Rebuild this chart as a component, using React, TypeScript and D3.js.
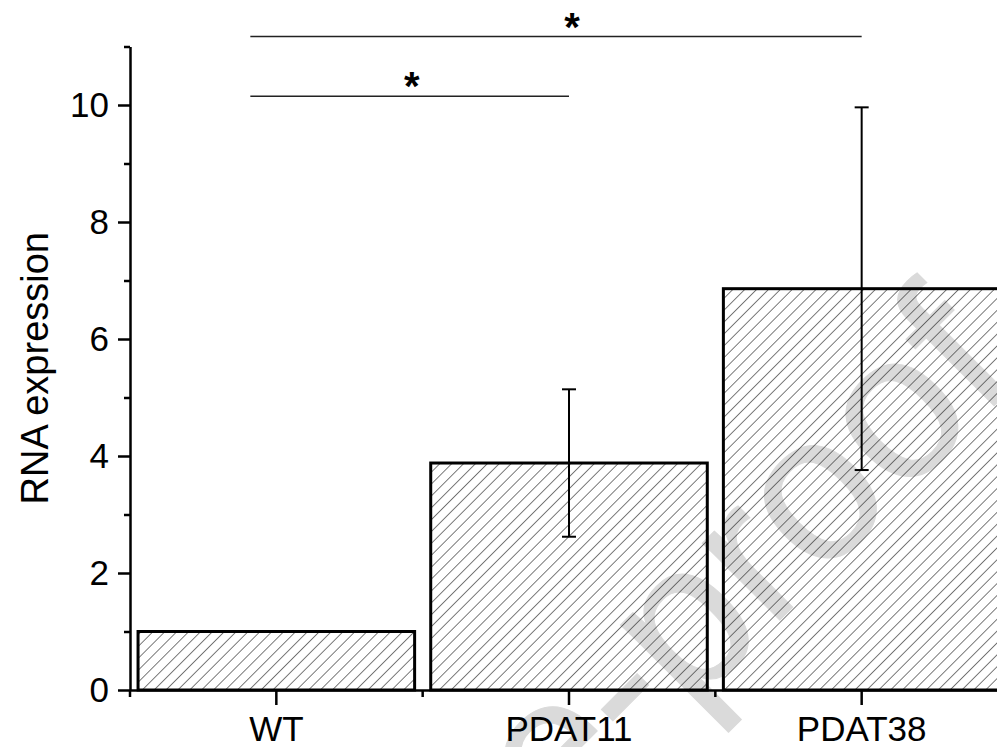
import * as d3 from "d3";
import { useEffect, useRef } from "react";

const categories = ["WT", "PDAT11", "PDAT38"];
const means = [1.0, 3.88, 6.86];
const errors = [0, 1.26, 3.1];
const majorTicks = [0, 2, 4, 6, 8, 10];
const minorTicks = [1, 3, 5, 7, 9, 11];
// significance brackets: [from, to, level]
const sigFrom = ["WT", "WT"];
const sigTo = ["PDAT11", "PDAT38"];
const sigLevel = [10.15, 11.17];
const sigLabel = ["*", "*"];

const W = 997;
const H = 747;
const FONT = "'Liberation Sans', Arial, Helvetica, sans-serif";

export default function App() {
  const svgRef = useRef<SVGSVGElement | null>(null);

  useEffect(() => {
    if (!svgRef.current) return;
    const svg = d3.select(svgRef.current);
    svg.selectAll("*").remove();

    const x = d3.scaleBand<string>().domain(categories).range([130, 1008]).paddingInner(0).paddingOuter(0);
    const y = d3.scaleLinear().domain([0, 11]).range([690, 46.5]);
    const step = x.step();
    const barW = step * 0.945;
    const cx = (c: string) => (x(c) ?? 0) + step / 2;

    // hatch pattern
    const defs = svg.append("defs");
    const pat = defs
      .append("pattern")
      .attr("id", "hatch")
      .attr("patternUnits", "userSpaceOnUse")
      .attr("width", 8.4)
      .attr("height", 8.4)
      .attr("patternTransform", "rotate(45)");
    pat.append("line").attr("x1", 0).attr("y1", 0).attr("x2", 0).attr("y2", 8.4)
      .attr("stroke", "#222").attr("stroke-width", 1.2);

    // watermark
    svg
      .append("text")
      .attr("transform", "translate(1022,378) rotate(-45)")
      .attr("text-anchor", "end")
      .attr("font-family", FONT)
      .attr("font-size", 207)
      .attr("fill", "#dadada")
      .attr("stroke", "#dadada")
      .attr("stroke-width", 1)
      .text("Journal Pre-proof");

    // bars
    svg
      .append("g")
      .selectAll("rect")
      .data(categories)
      .join("rect")
      .attr("x", (c) => cx(c) - barW / 2)
      .attr("width", barW)
      .attr("y", (c, i) => y(means[i]))
      .attr("height", (c, i) => y(0) - y(means[i]))
      .attr("fill", "url(#hatch)")
      .attr("stroke", "#000")
      .attr("stroke-width", 3);

    // error bars
    const eg = svg.append("g").attr("stroke", "#000").attr("stroke-width", 2);
    categories.forEach((c, i) => {
      if (!errors[i]) return;
      const hi = y(means[i] + errors[i]);
      const lo = y(means[i] - errors[i]);
      eg.append("line").attr("x1", cx(c)).attr("x2", cx(c)).attr("y1", hi).attr("y2", lo);
      eg.append("line").attr("x1", cx(c) - 7).attr("x2", cx(c) + 7).attr("y1", hi).attr("y2", hi);
      eg.append("line").attr("x1", cx(c) - 7).attr("x2", cx(c) + 7).attr("y1", lo).attr("y2", lo);
    });

    // y axis
    const yAxis = svg.append("g").attr("transform", "translate(130,0)");
    yAxis.call(
      d3.axisLeft(y).tickValues(majorTicks).tickSize(12).tickSizeOuter(0).tickPadding(9).tickFormat(d3.format("d"))
    );
    yAxis.append("g").call(d3.axisLeft(y).tickValues(minorTicks).tickSize(6).tickSizeOuter(0).tickFormat(() => ""));
    yAxis.selectAll("g > .domain").filter((d, i) => i > 0).remove();

    // x axis
    const xAxis = svg.append("g").attr("transform", "translate(0,690)");
    xAxis.call(d3.axisBottom(x).tickSize(15).tickSizeOuter(0).tickPadding(11));
    const bounds = categories.map((c) => x(c) ?? 0);
    xAxis
      .selectAll("line.bound")
      .data(bounds)
      .join("line")
      .attr("class", "bound")
      .attr("x1", (d) => d)
      .attr("x2", (d) => d)
      .attr("y1", 0)
      .attr("y2", 7);

    svg.selectAll(".domain, .tick line, line.bound").attr("stroke", "#000").attr("stroke-width", 2.5);
    svg
      .selectAll(".tick text")
      .attr("font-family", FONT)
      .attr("font-size", 35)
      .attr("fill", "#000");

    // y label
    svg
      .append("text")
      .attr("transform", `translate(48,${y(5.5)}) rotate(-90)`)
      .attr("text-anchor", "middle")
      .attr("font-family", FONT)
      .attr("font-size", 38)
      .text("RNA expression");

    // significance brackets
    const sg = svg.append("g");
    sigFrom.forEach((f, i) => {
      const x1 = cx(f) - 26;
      const x2 = cx(sigTo[i]);
      const yy = y(sigLevel[i]);
      sg.append("line").attr("x1", x1).attr("x2", x2).attr("y1", yy).attr("y2", yy)
        .attr("stroke", "#222").attr("stroke-width", 1.6);
      sg.append("text")
        .attr("x", (x1 + x2) / 2 + (i === 1 ? 16 : 2))
        .attr("y", yy + 4)
        .attr("text-anchor", "middle")
        .attr("font-family", FONT)
        .attr("font-weight", "bold")
        .attr("font-size", 40)
        .text(sigLabel[i]);
    });
  }, []);

  return (
    <svg
      ref={svgRef}
      width={W}
      height={H}
      viewBox={`0 0 ${W} ${H}`}
      style={{ position: "absolute", left: 0, top: 0, background: "#fff" }}
    />
  );
}
